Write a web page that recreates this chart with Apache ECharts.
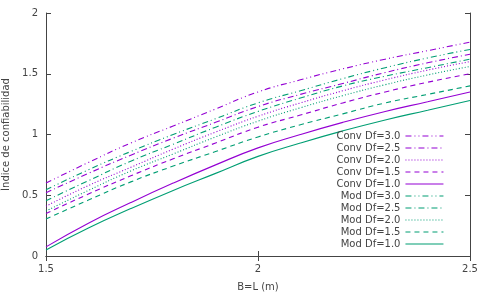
<!DOCTYPE html>
<html style="height:100%">
<head>
    <meta charset="utf-8">
    <script type="text/javascript" src="https://cdn.jsdelivr.net/npm/echarts@6/dist/echarts.min.js"></script>
    <title>Índice de confiabilidad</title>
</head>
<body style="height: 100%; margin: 0; background: #fff">
    <div id="container" style="width:484px;height:295px"></div>
    <script type="text/javascript">
    var myChart = echarts.init(document.getElementById('container'));

    // B=L (m)
    const xValues = [1.5, 1.6, 1.7, 1.8, 1.9, 2.0, 2.1, 2.2, 2.3, 2.4, 2.5];

    // índice de confiabilidad
    const conv30 = [0.60, 0.77, 0.93, 1.07, 1.21, 1.35, 1.45, 1.54, 1.62, 1.69, 1.76];
    const conv25 = [0.52, 0.68, 0.83, 0.97, 1.10, 1.23, 1.33, 1.42, 1.51, 1.59, 1.66];
    const conv20 = [0.41, 0.58, 0.73, 0.88, 1.02, 1.15, 1.26, 1.36, 1.45, 1.53, 1.60];
    const conv15 = [0.35, 0.51, 0.66, 0.80, 0.93, 1.06, 1.16, 1.26, 1.35, 1.43, 1.50];
    const conv10 = [0.075, 0.27, 0.44, 0.60, 0.75, 0.89, 1.00, 1.10, 1.19, 1.27, 1.35];
    const mod30 = [0.545, 0.71, 0.86, 1.00, 1.13, 1.26, 1.36, 1.46, 1.55, 1.63, 1.70];
    const mod25 = [0.455, 0.62, 0.78, 0.92, 1.06, 1.19, 1.30, 1.40, 1.48, 1.55, 1.62];
    const mod20 = [0.37, 0.54, 0.70, 0.84, 0.98, 1.11, 1.22, 1.32, 1.41, 1.49, 1.56];
    const mod15 = [0.305, 0.46, 0.61, 0.74, 0.86, 0.98, 1.08, 1.17, 1.26, 1.33, 1.40];
    const mod10 = [0.05, 0.23, 0.39, 0.54, 0.68, 0.82, 0.93, 1.03, 1.12, 1.20, 1.28];

    const seriesNames = ['Conv Df=3.0', 'Conv Df=2.5', 'Conv Df=2.0', 'Conv Df=1.5', 'Conv Df=1.0',
                         'Mod Df=3.0', 'Mod Df=2.5', 'Mod Df=2.0', 'Mod Df=1.5', 'Mod Df=1.0'];
    const seriesData = [conv30, conv25, conv20, conv15, conv10, mod30, mod25, mod20, mod15, mod10];

    const purple = '#9400d3';
    const green = '#009e73';
    const dashes = [[6, 3, 1, 3, 1, 3], [6, 3, 1, 3], [1, 2], [5, 4], 'solid'];

    const series = seriesNames.map(function(name, i) {
        return {
            name: name,
            type: 'line',
            symbol: 'none',
            smooth: true,
            data: xValues.map(function(x, j) { return [x, seriesData[i][j]]; }),
            lineStyle: {
                color: i < 5 ? purple : green,
                width: 1.1,
                type: dashes[i % 5]
            },
            itemStyle: { color: i < 5 ? purple : green }
        };
    });

    const textColor = '#444';
    const font = 'DejaVu Sans';

    var option = {
        animation: false,
        grid: { left: 46, right: 14, top: 13, bottom: 39, outerBoundsMode: 'none' },
        legend: {
            data: seriesNames,
            orient: 'vertical',
            align: 'right',
            right: 40,
            top: 131,
            itemWidth: 38,
            itemHeight: 8,
            itemGap: 2,
            padding: 0,
            itemStyle: { opacity: 0 },
            lineStyle: { width: 1.1 },
            textStyle: { fontFamily: font, fontSize: 10, lineHeight: 10, color: textColor, width: 62, align: 'right' }
        },
        xAxis: [{
            type: 'value',
            min: 1.5, max: 2.5, interval: 0.5,
            name: 'B=L (m)',
            nameLocation: 'middle',
            nameGap: 26,
            nameTextStyle: { fontFamily: font, fontSize: 10, color: textColor },
            axisLine: { lineStyle: { color: '#444' } },
            axisTick: { inside: true, length: 5, lineStyle: { color: '#444' } },
            axisLabel: { fontFamily: font, fontSize: 10, color: textColor, margin: 8 },
            splitLine: { show: false }
        }, {
            type: 'value',
            position: 'top',
            min: 1.5, max: 2.5, interval: 0.5,
            axisLine: { show: true, lineStyle: { color: '#444' } },
            axisTick: { inside: true, length: 5, lineStyle: { color: '#444' } },
            axisLabel: { show: false },
            splitLine: { show: false }
        }],
        yAxis: [{
            type: 'value',
            min: 0, max: 2, interval: 0.5,
            name: 'Índice de confiabilidad',
            nameLocation: 'middle',
            nameGap: 30,
            nameTextStyle: { fontFamily: font, fontSize: 10, color: textColor },
            axisLine: { show: true, lineStyle: { color: '#444' } },
            axisTick: { show: true, inside: true, length: 5, lineStyle: { color: '#444' } },
            axisLabel: { fontFamily: font, fontSize: 10, color: textColor, margin: 8 },
            splitLine: { show: false }
        }, {
            type: 'value',
            position: 'right',
            min: 0, max: 2, interval: 0.5,
            axisLine: { show: true, lineStyle: { color: '#444' } },
            axisTick: { show: true, inside: true, length: 5, lineStyle: { color: '#444' } },
            axisLabel: { show: false },
            splitLine: { show: false }
        }],
        series: series
    };

    myChart.setOption(option);
    </script>
</body>
</html>
